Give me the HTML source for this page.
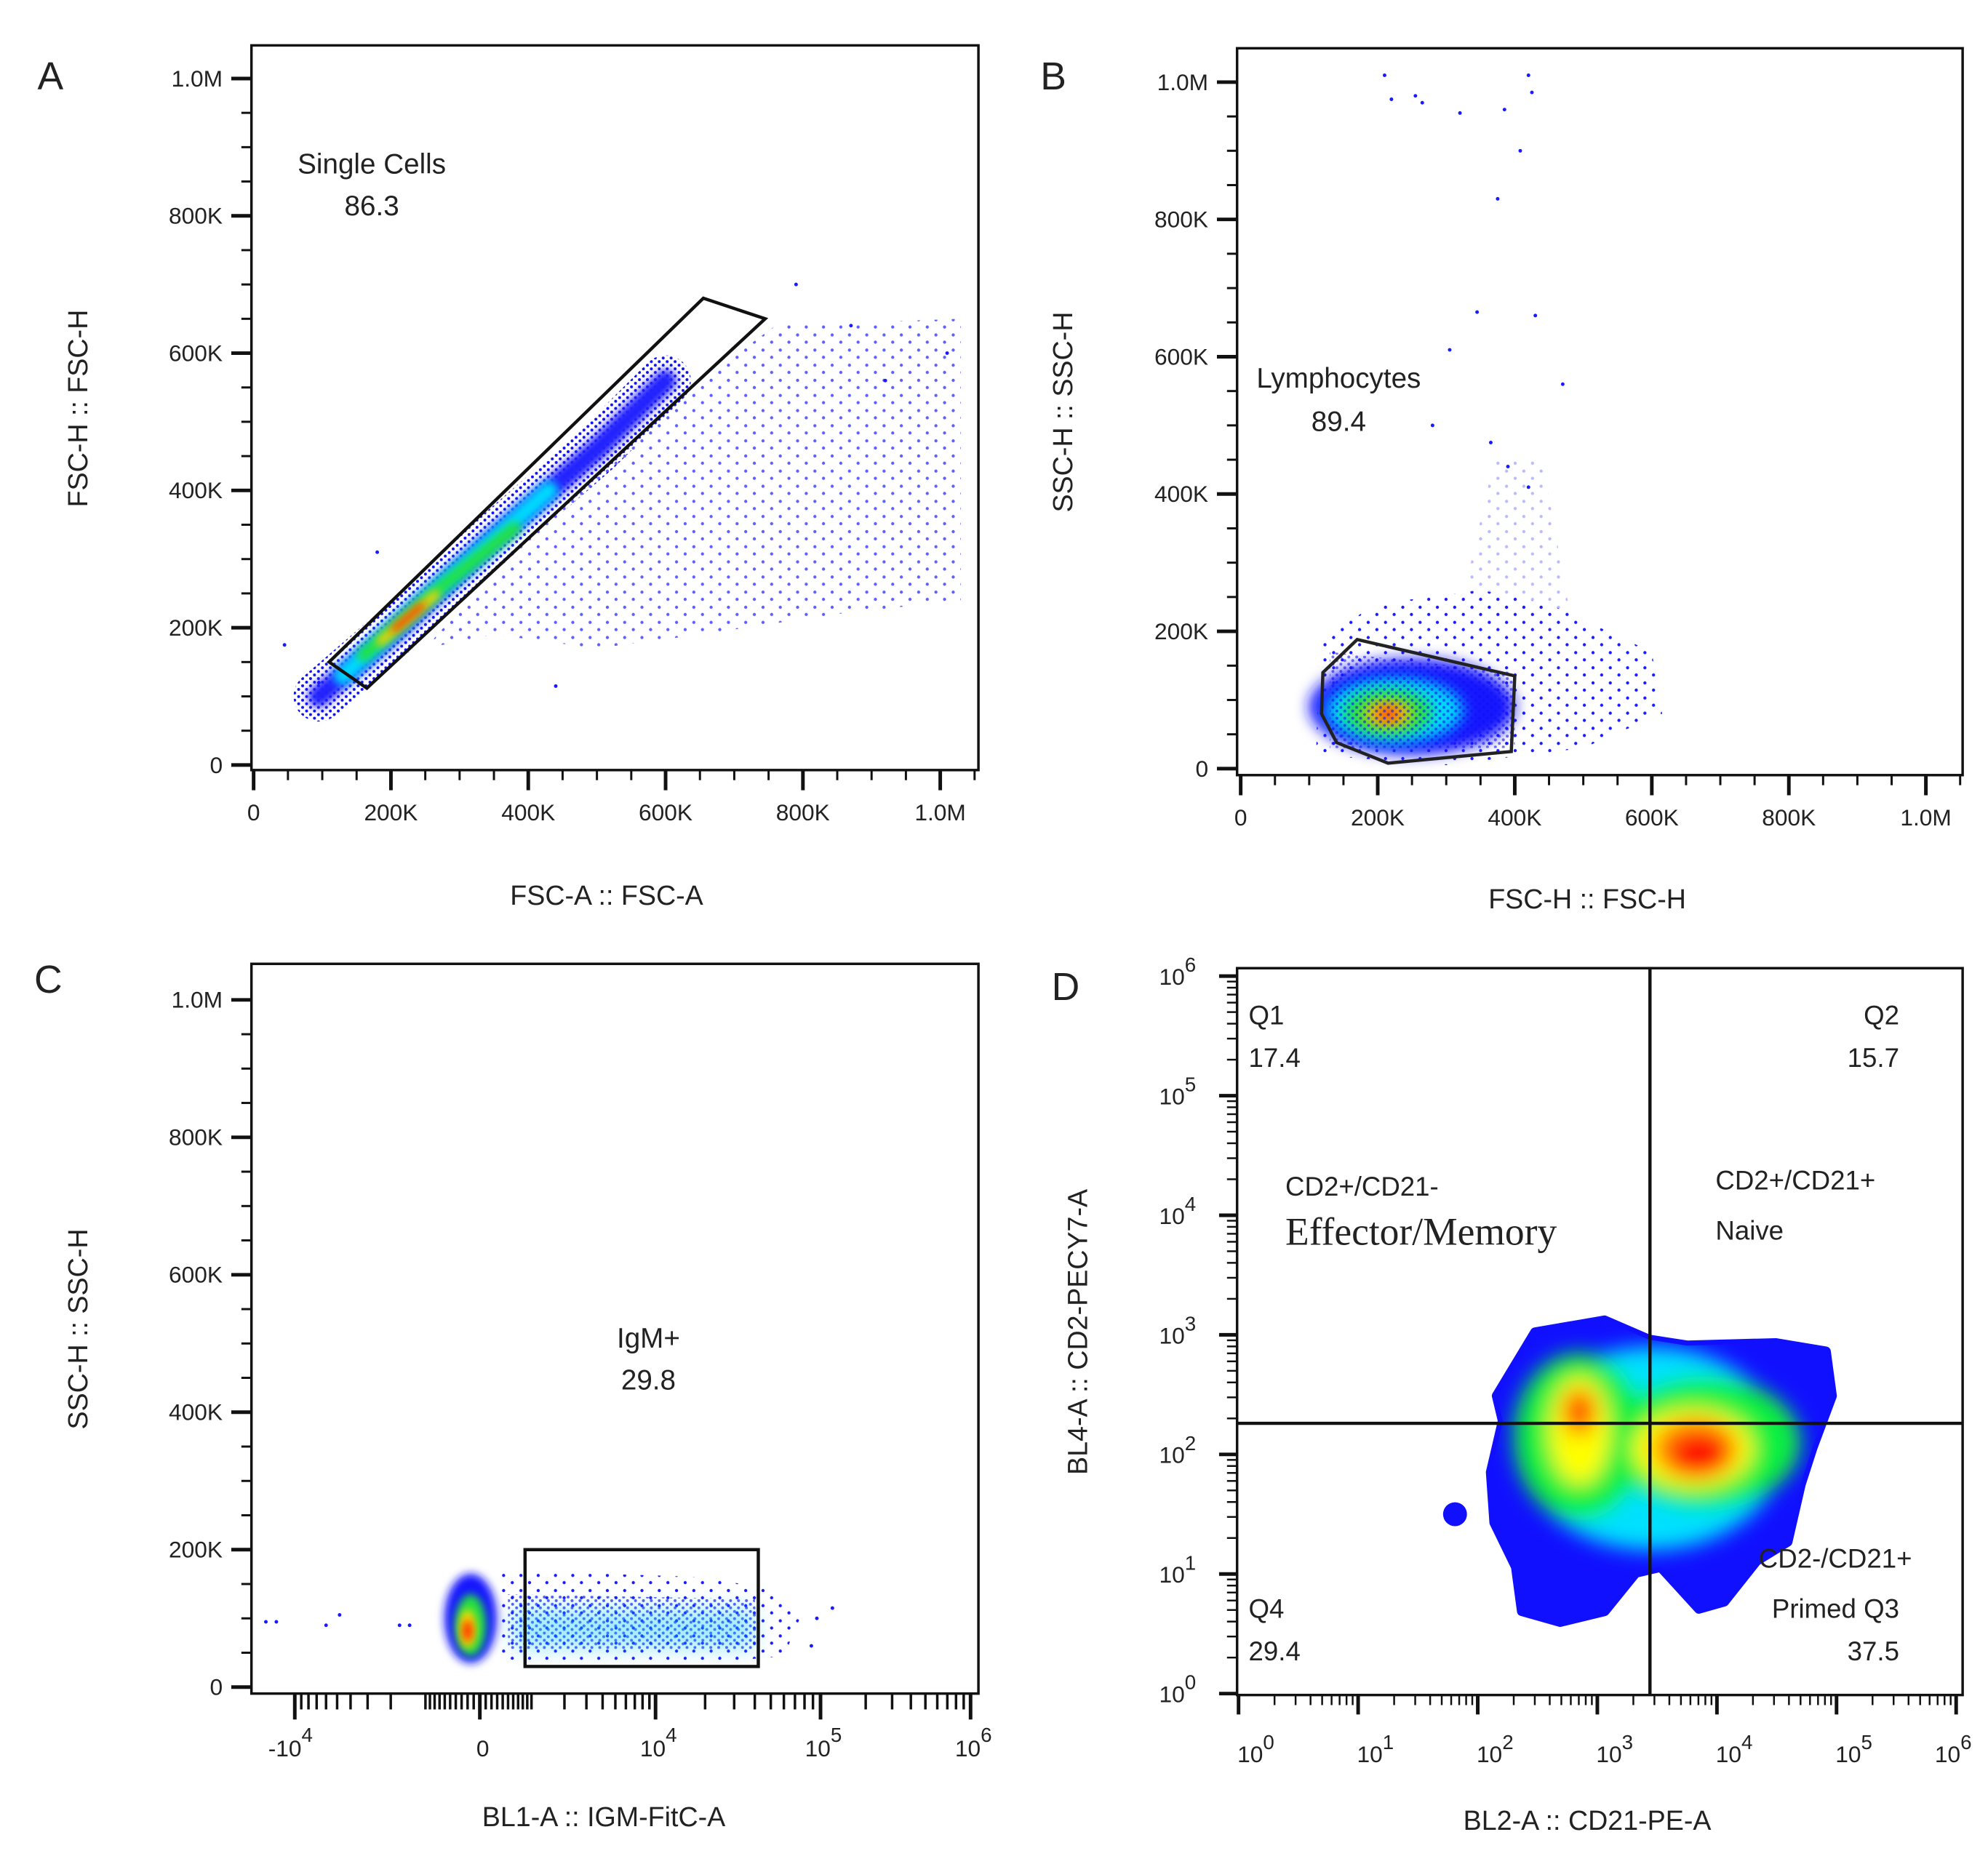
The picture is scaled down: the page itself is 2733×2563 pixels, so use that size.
<!DOCTYPE html>
<html><head><meta charset="utf-8">
<style>
html,body{margin:0;padding:0;background:#fff;}
svg{display:block;font-family:"Liberation Sans",sans-serif;}
</style></head>
<body>
<svg id="fig" xmlns="http://www.w3.org/2000/svg" width="2733" height="2563" viewBox="0 0 2733 2563">
<defs>
<pattern id="sparse" width="24" height="21" patternUnits="userSpaceOnUse"><circle cx="3" cy="3" r="2.2" fill="#1a1aff"/><circle cx="15" cy="13" r="2.2" fill="#1a1aff"/></pattern>
<pattern id="medium" width="11" height="10" patternUnits="userSpaceOnUse"><circle cx="2" cy="2" r="2" fill="#1010f0"/><circle cx="7.5" cy="7" r="2" fill="#1010f0"/></pattern>
<filter id="blur6" x="-50%" y="-50%" width="200%" height="200%"><feGaussianBlur stdDeviation="6"/></filter>
<filter id="blur10" x="-50%" y="-50%" width="200%" height="200%"><feGaussianBlur stdDeviation="10"/></filter>
<filter id="blur14" x="-50%" y="-50%" width="200%" height="200%"><feGaussianBlur stdDeviation="14"/></filter>
</defs>
<g id="root" transform="scale(0.9905)"></g>
</svg>
<script>
// ---------------- DATA ----------------
// Panel A (K units)
const aSparseRegion=[[330,260],[450,380],[560,470],[650,560],[760,640],[1030,650],[1030,240],[850,220],[650,190],[500,170],[350,190],[250,170]];
const aBandLine=[[95,100],[200,190],[350,330],[500,460],[600,560]];
const aCyanLine=[[130,130],[250,240],[430,400]];
const aGreenLine=[[160,160],[280,265],[380,345]];
const aYellowLine=[[185,180],[265,248]];
const aRedLine=[[205,198],[245,232]];
const aGate=[[110,150],[655,680],[745,650],[165,112]];
const aOutliers=[[45,175],[95,120],[440,115],[790,700],[870,640],[180,310],[920,560],[1010,600]];
// Panel B (K units)
const bSparseRegion=[[110,20],[115,190],[200,240],[350,260],[450,240],[600,170],[615,80],[500,30],[300,5]];
const bUpRegion=[[320,230],[370,450],[440,450],[480,230]];
const bOutliers=[[210,1010],[255,980],[220,975],[265,970],[320,955],[385,960],[420,1010],[425,985],[408,900],[375,830],[345,665],[430,660],[470,560],[365,475],[390,440],[420,410],[280,500],[305,610]];
const bClusters=[[250,90,150,70,"#1818ff"],[225,85,100,48,"#00d8ff"],[215,82,65,34,"#20e040"],[215,80,36,18,"#ffe000"],[215,80,20,10,"#ff2000"]];
const bGate=[[120,140],[170,188],[400,135],[395,25],[215,8],[140,38],[118,80]];
// Panel C (x raw value, y K)
const cSparseRegion=[[300,40],[300,170],[20000,160],[55000,140],[75000,100],[60000,45],[20000,35]];
const cMediumRegion=[[500,55],[500,135],[40000,128],[42000,55]];
const cClusters=[[-150,100,450,65,"#1818ff"],[-150,90,260,45,"#20e040"],[-200,85,140,28,"#ffe000"],[-200,82,80,16,"#ff2000"]];
const cOutliers=[[-16000,95],[-13500,95],[-6000,90],[-4800,105],[-1700,90],[-1400,90],[95000,100],[120000,115],[88000,60]];
const cGate=[[850,30],[42000,200]];
// Panel D (log10 units)
const dBlob=[[2.16,2.49],[2.48,3.02],[3.06,3.12],[3.43,2.96],[3.75,2.91],[4.49,2.93],[4.91,2.86],[4.96,2.49],[4.80,2.06],[4.70,1.75],[4.59,1.27],[4.33,1.11],[4.06,0.77],[3.85,0.71],[3.53,1.06],[3.32,1.01],[3.06,0.69],[2.69,0.60],[2.37,0.69],[2.32,1.06],[2.14,1.43],[2.11,1.85],[2.21,2.28]];
const dSatellite=[1.81,1.50,0.1];
const dLevels=[[3.45,2.05,1.1,0.85,"#00e0ff"],[2.85,2.15,0.55,0.7,"#10f040"],[3.9,2.1,0.8,0.55,"#10f040"],[2.85,2.2,0.25,0.45,"#ffff00"],[3.8,2.05,0.5,0.33,"#ffff00"],[2.85,2.35,0.14,0.2,"#ff8000"],[3.82,2.05,0.35,0.25,"#ff8000"],[2.85,2.38,0.08,0.12,"#ff1000"],[3.85,2.0,0.24,0.18,"#ff1000"]];
const dQuadX=3.44, dQuadY=2.26;
// Tick values
const linTicks=[0,200000,400000,600000,800000,1000000];
const linTickLabels=["0","200K","400K","600K","800K","1.0M"];
const cXTicks=[-10000,0,10000,100000,1000000];
const cXTickBase=["-10","0","10","10","10"];
const cXTickExp=["4","","4","5","6"];
const logDecades=[0,1,2,3,4,5,6];

// ---------------- HELPERS ----------------
const NS="http://www.w3.org/2000/svg";
const svg=document.getElementById("root");
function el(tag,attrs,parent){const e=document.createElementNS(NS,tag);for(const k in attrs)e.setAttribute(k,attrs[k]);(parent||svg).appendChild(e);return e;}
function txt(x,y,s,size,anchor,parent,extra){const t=el("text",Object.assign({x:x,y:y,"font-size":size,"text-anchor":anchor||"middle",fill:"#222"},extra||{}),parent);t.textContent=s;return t;}
function pts(arr,fx,fy){return arr.map(p=>fx(p[0]).toFixed(1)+","+fy(p[1]).toFixed(1)).join(" ");}

// scales
const aX=v=>352+v/1e6*953, aY=v=>1062-v/1e6*953;
const bX=v=>1722+v/1e6*951, bY=v=>1067-v/1e6*953;
const cY=v=>2342-v/1e6*954;
const cAnchorS=[-3.0,0,3.0,5.3,7.6], cAnchorP=[409,666,910,1139,1347];
function cX(v){const s=Math.asinh(v/1000);let i=0;while(i<cAnchorS.length-2&&s>cAnchorS[i+1])i++;const t=(s-cAnchorS[i])/(cAnchorS[i+1]-cAnchorS[i]);return cAnchorP[i]+t*(cAnchorP[i+1]-cAnchorP[i]);}
const dX=l=>1719+l*166, dY=l=>2351-l*166;

function frame(name,L,T,R,B){
  const r=el("rect",{x:L,y:T,width:R-L,height:B-T,fill:"none",stroke:"#111","stroke-width":3.5});
  
  
}
function yTicksLin(name,fy,L,minorStep){
  const g=el("g",{});
  
  
  for(let v=0;v<=1000000;v+=minorStep){const y=fy(v);el("line",{x1:L,x2:L-14,y1:y,y2:y,stroke:"#111","stroke-width":3},g);}
  linTicks.forEach((v,i)=>{const y=fy(v);el("line",{x1:L,x2:L-28,y1:y,y2:y,stroke:"#111","stroke-width":5},g);
    const t=txt(L-40,y+11,linTickLabels[i],32,"end",g);
    
    });
}
function xTicksLin(name,fx,B,minorStep){
  const g=el("g",{});
  
  
  for(let v=0;v<=1050000;v+=minorStep){const x=fx(v);el("line",{x1:x,x2:x,y1:B,y2:B+14,stroke:"#111","stroke-width":3},g);}
  linTicks.forEach((v,i)=>{const x=fx(v);el("line",{x1:x,x2:x,y1:B,y2:B+28,stroke:"#111","stroke-width":5},g);
    const t=txt(x,B+70,linTickLabels[i],32,"middle",g);
    
    });
}
function region(arr,fx,fy,fill,op){return el("polygon",{points:pts(arr,fx,fy),fill:fill,opacity:op||1});}
function line(arr,fx,fy,color,w,filt){return el("polyline",{points:pts(arr,fx,fy),fill:"none",stroke:color,"stroke-width":w,"stroke-linecap":"round","stroke-linejoin":"round",filter:filt||""});}
function dots(arr,fx,fy,name){arr.forEach(p=>{const c=el("circle",{cx:fx(p[0]),cy:fy(p[1]),r:2.5,fill:"#1a1aff"});
  
  });}

// ---------------- PANEL A ----------------
let e;
e=region(aSparseRegion,v=>aX(v*1000),v=>aY(v*1000),"url(#sparse)",0.7);


e=line(aBandLine,v=>aX(v*1000),v=>aY(v*1000),"url(#medium)",70);


e=line(aBandLine,v=>aX(v*1000),v=>aY(v*1000),"#2020ff",30,"url(#blur6)");


e=line(aCyanLine,v=>aX(v*1000),v=>aY(v*1000),"#00d8ff",26,"url(#blur6)");


e=line(aGreenLine,v=>aX(v*1000),v=>aY(v*1000),"#20e040",18,"url(#blur6)");


e=line(aYellowLine,v=>aX(v*1000),v=>aY(v*1000),"#ffd000",12,"url(#blur6)");


e=line(aRedLine,v=>aX(v*1000),v=>aY(v*1000),"#ff2000",8,"url(#blur6)");


dots(aOutliers,v=>aX(v*1000),v=>aY(v*1000),'a-outlier-event');
e=el("polygon",{points:pts(aGate,v=>aX(v*1000),v=>aY(v*1000)),fill:"none",stroke:"#111","stroke-width":4.5,"stroke-linejoin":"miter"});


frame('a',349,63,1358,1069);
yTicksLin('a',aY,349,50000);
xTicksLin('a',aX,1069,50000);

// ---------------- PANEL B ----------------
e=region(bSparseRegion,v=>bX(v*1000),v=>bY(v*1000),"url(#sparse)");


e=region(bUpRegion,v=>bX(v*1000),v=>bY(v*1000),"url(#sparse)",0.3);


dots(bOutliers,v=>bX(v*1000),v=>bY(v*1000),'b-outlier-event');
bClusters.forEach((c,i)=>{
  const o=el("ellipse",{cx:bX(c[0]*1000),cy:bY(c[1]*1000),rx:c[2]*0.951,ry:c[3]*0.953,fill:c[4],filter:"url(#blur10)"});
  
  
});
e=region([[130,30],[130,170],[400,140],[400,30]],v=>bX(v*1000),v=>bY(v*1000),"url(#medium)",0.6);


e=el("polygon",{points:pts(bGate,v=>bX(v*1000),v=>bY(v*1000)),fill:"none",stroke:"#222","stroke-width":4.5});


frame('b',1717,67,2724,1076);
yTicksLin('b',bY,1717,50000);
xTicksLin('b',bX,1076,50000);

// ---------------- PANEL C ----------------
e=region(cSparseRegion,cX,v=>cY(v*1000),"url(#sparse)");


e=region(cMediumRegion,cX,v=>cY(v*1000),"url(#medium)",0.7);


e=el("rect",{x:cX(600),y:cY(115000),width:cX(40000)-cX(600),height:cY(55000)-cY(115000),fill:"#00c8ff",opacity:0.35,filter:"url(#blur14)"});


cClusters.forEach(c=>{
  const x0=cX(c[0]);const rx=(cX(c[0]+c[2])-cX(c[0]-c[2]))/2;
  const o=el("ellipse",{cx:x0,cy:cY(c[1]*1000),rx:rx,ry:c[3]*0.954,fill:c[4],filter:"url(#blur6)"});
  
  
});
dots(cOutliers,cX,v=>cY(v*1000),'c-outlier-event');
e=el("rect",{x:cX(cGate[0][0]),y:cY(cGate[1][1]*1000),width:cX(cGate[1][0])-cX(cGate[0][0]),height:cY(cGate[0][1]*1000)-cY(cGate[1][1]*1000),fill:"none",stroke:"#111","stroke-width":4.5});


frame('c',349,1338,1358,2351);
yTicksLin('c',cY,349,50000);
(function(){
  const g=el("g",{});
  
  
  const B=2351;const minor=[];
  for(let d=100;d<=1000;d*=10)for(let k=1;k<10;k++){minor.push(k*d);minor.push(-k*d);}
  for(let k=2;k<10;k++){minor.push(k*10000);minor.push(k*100000);}
  minor.forEach(v=>{const x=cX(v);if(x>352&&x<1356)el("line",{x1:x,x2:x,y1:B,y2:B+22,stroke:"#111","stroke-width":3.5},g);});
  cXTicks.forEach((v,i)=>{const x=cX(v);el("line",{x1:x,x2:x,y1:B,y2:B+36,stroke:"#111","stroke-width":5},g);
    const t=el("text",{x:x+(i==0?-6:4),y:2438,"font-size":32,"text-anchor":"middle",fill:"#222"},g);
    
    
    t.appendChild(document.createTextNode(cXTickBase[i]));
    if(cXTickExp[i]){const s=el("tspan",{dy:-20,"font-size":28},t);s.textContent=cXTickExp[i];}
  });
})();

// ---------------- PANEL D ----------------
(function(){
  const clip=el("clipPath",{id:"dclip"});
  el("polygon",{points:pts(dBlob,dX,dY),"stroke-linejoin":"round"},clip);
  const blue=el("polygon",{points:pts(dBlob,dX,dY),fill:"#1010ff",stroke:"#1010ff","stroke-width":14,"stroke-linejoin":"round"});
  
  
  const g=el("g",{"clip-path":"url(#dclip)"});
  
  
  const inner=el("g",{filter:"url(#blur14)"},g);
  dLevels.forEach(c=>{
    const o=el("ellipse",{cx:dX(c[0]),cy:dY(c[1]),rx:c[2]*166,ry:c[3]*166,fill:c[4]},inner);
    
    
  });
  const sat=el("circle",{cx:dX(dSatellite[0]),cy:dY(dSatellite[1]),r:dSatellite[2]*166,fill:"#1010ff"});
  
  
})();
e=el("line",{x1:dX(dQuadX),x2:dX(dQuadX),y1:1344,y2:2353,stroke:"#111","stroke-width":4.5});


e=el("line",{x1:1717,x2:2724,y1:dY(dQuadY),y2:dY(dQuadY),stroke:"#111","stroke-width":4.5});


frame('d',1717,1344,2724,2353);
(function(){
  const gy=el("g",{});
  
  
  const gx=el("g",{});
  
  
  logDecades.forEach(d=>{
    const y=dY(d),x=dX(d);
    el("line",{x1:1717,x2:1692,y1:y,y2:y,stroke:"#111","stroke-width":5},gy);
    el("line",{x1:x,x2:x,y1:2353,y2:2380,stroke:"#111","stroke-width":5},gx);
    if(d<6)for(let k=2;k<10;k++){const o=Math.log10(k);
      el("line",{x1:1717,x2:1703,y1:dY(d+o),y2:dY(d+o),stroke:"#111","stroke-width":2.5},gy);
      el("line",{x1:dX(d+o),x2:dX(d+o),y1:2353,y2:2367,stroke:"#111","stroke-width":2.5},gx);}
    const t=el("text",{x:1660,y:y+12,"font-size":32,"text-anchor":"end",fill:"#222"},gy);
    
    
    t.appendChild(document.createTextNode("10"));
    let s=el("tspan",{dy:-18,"font-size":28},t);s.textContent=String(d);
    const t2=el("text",{x:x+(d==6?-4:24),y:2446,"font-size":32,"text-anchor":"middle",fill:"#222"},gx);
    
    
    t2.appendChild(document.createTextNode("10"));
    s=el("tspan",{dy:-18,"font-size":28},t2);s.textContent=String(d);
  });
})();

// ---------------- TEXT ----------------
const labels=[
 ["A",70,124,54,"middle","panel-label-a"],["B",1462,124,54,"middle","panel-label-b"],
 ["C",67,1378,54,"middle","panel-label-c"],["D",1479,1388,54,"middle","panel-label-d"],
 ["Single Cells",516,241,39,"middle","single-cells-label"],["86.3",516,299,39,"middle","single-cells-value"],
 ["Lymphocytes",1858,538,39,"middle","lymphocytes-label"],["89.4",1858,598,39,"middle","lymphocytes-value"],
 ["IgM+",900,1871,39,"middle","igm-label"],["29.8",900,1929,39,"middle","igm-value"],
 ["FSC-A :: FSC-A",842,1256,38,"middle","a-x-axis-title"],["FSC-H :: FSC-H",2203,1261,38,"middle","b-x-axis-title"],
 ["BL1-A :: IGM-FitC-A",838,2535,38,"middle","c-x-axis-title"],["BL2-A :: CD21-PE-A",2203,2540,38,"middle","d-x-axis-title"],
 ["Q1",1733,1422,37,"start","q1-label"],["17.4",1733,1481,37,"start","q1-value"],
 ["Q2",2636,1422,37,"end","q2-label"],["15.7",2636,1481,37,"end","q2-value"],
 ["Q4",1733,2246,37,"start","q4-label"],["29.4",1733,2305,37,"start","q4-value"],
 ["37.5",2636,2305,37,"end","q3-value"],["Primed Q3",2636,2246,37,"end","primed-label"],
 ["CD2-/CD21+",2441,2176,37,"start","cd2neg-cd21pos-label"],
 ["CD2+/CD21-",1784,1660,37,"start","cd2pos-cd21neg-label"],
 ["CD2+/CD21+",2381,1651,37,"start","cd2pos-cd21pos-label"],["Naive",2381,1721,37,"start","naive-label"]
];
labels.forEach(l=>{const t=txt(l[1],l[2],l[0],l[3],l[4]);
  
  });
e=txt(1784,1728,"Effector/Memory",54,"start",null,{"font-family":"Liberation Serif, serif"});


const ytitles=[["FSC-H :: FSC-H",109,567,"a-y-axis-title"],["SSC-H :: SSC-H",1476,572,"b-y-axis-title"],["SSC-H :: SSC-H",109,1845,"c-y-axis-title"],["BL4-A :: CD2-PECY7-A",1497,1849,"d-y-axis-title"]];
ytitles.forEach(y=>{const t=txt(y[1]+12,y[2],y[0],38,"middle",null,{transform:"rotate(-90 "+(y[1]+12)+" "+y[2]+")"});
  
  });
</script>
</body></html>
